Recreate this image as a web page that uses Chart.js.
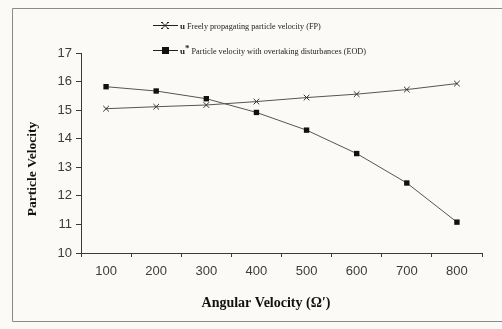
<!DOCTYPE html>
<html>
<head>
<meta charset="utf-8">
<script src="https://cdn.jsdelivr.net/npm/chart.js@4"></script>
<style>
  html, body { margin: 0; padding: 0; background: #fcfaf6; }
  #wrap { width: 502px; height: 329px; position: relative; }
</style>
</head>
<body>
<div id="wrap"><canvas id="c" width="502" height="329"></canvas></div>
<script>
const categories = ['100', '200', '300', '400', '500', '600', '700', '800'];
const fpValues  = [15.05, 15.12, 15.18, 15.3, 15.44, 15.56, 15.72, 15.93];
const eodValues = [15.82, 15.67, 15.4, 14.92, 14.3, 13.48, 12.45, 11.08];
const yTicks = [10, 11, 12, 13, 14, 15, 16, 17];
const legendSymbols = ['u', 'u*'];
const legendTexts = ['Freely propagating particle velocity (FP)', 'Particle velocity with overtaking disturbances (EOD)'];
const xTitle = 'Angular Velocity (\u03A9\u2032)';
const yTitle = 'Particle Velocity';

const ink = '#3a3a3a';

const framePlugin = {
  id: 'frame',
  beforeDraw(chart) {
    const ctx = chart.ctx;
    ctx.save();
    ctx.fillStyle = '#fcfaf6';
    ctx.fillRect(0, 0, chart.width, chart.height);
    ctx.strokeStyle = '#8a8a8a';
    ctx.lineWidth = 1;
    ctx.beginPath();
    ctx.moveTo(502, 8.5);
    ctx.lineTo(12.5, 8.5);
    ctx.lineTo(12.5, 321.5);
    ctx.lineTo(502, 321.5);
    ctx.stroke();
    ctx.restore();
  }
};

const titlesPlugin = {
  id: 'axisTitles',
  afterDraw(chart) {
    const ctx = chart.ctx;
    ctx.save();
    ctx.fillStyle = '#111';
    ctx.textAlign = 'center';
    ctx.textBaseline = 'middle';
    ctx.font = 'bold 14px "Liberation Serif"';
    ctx.fillText(xTitle, 266, 303);
    ctx.translate(33, 169);
    ctx.rotate(-Math.PI / 2);
    ctx.font = 'bold 13.5px "Liberation Serif"';
    ctx.fillText(yTitle, 0, 0);
    ctx.restore();
  }
};

const legendPlugin = {
  id: 'customLegend',
  afterDraw(chart) {
    const ctx = chart.ctx;
    ctx.save();
    const rows = [25, 50];
    chart.data.datasets.forEach((ds, i) => {
      const y = rows[i] + 0.5;
      ctx.strokeStyle = '#222';
      ctx.lineWidth = 1;
      ctx.beginPath();
      ctx.moveTo(153, y);
      ctx.lineTo(178, y);
      ctx.stroke();
      if (ds.pointStyle === 'rect') {
        ctx.fillStyle = '#111';
        ctx.fillRect(162, y - 3.5, 7, 7);
      } else {
        ctx.beginPath();
        ctx.moveTo(162, y - 3); ctx.lineTo(168, y + 3);
        ctx.moveTo(168, y - 3); ctx.lineTo(162, y + 3);
        ctx.moveTo(161, y - 3); ctx.lineTo(163, y - 3);
        ctx.moveTo(167, y - 3); ctx.lineTo(169, y - 3);
        ctx.moveTo(161, y + 3); ctx.lineTo(163, y + 3);
        ctx.moveTo(167, y + 3); ctx.lineTo(169, y + 3);
        ctx.stroke();
      }
      ctx.fillStyle = '#222';
      ctx.textBaseline = 'middle';
      ctx.font = 'bold 9px "Liberation Serif"';
      let x = 180;
      const sym = legendSymbols[i];
      if (sym.endsWith('*')) {
        const base = sym.slice(0, -1);
        ctx.fillText(base, x, y + 1);
        x += ctx.measureText(base).width;
        ctx.fillText('*', x, y - 2);
        x += ctx.measureText('*').width;
      } else {
        ctx.fillText(sym, x, y + 1);
        x += ctx.measureText(sym).width;
      }
      ctx.font = '8.2px "Liberation Serif"';
      ctx.fillText(' ' + legendTexts[i], x, y + 1);
    });
    ctx.restore();
  }
};

new Chart(document.getElementById('c'), {
  type: 'line',
  data: {
    labels: categories,
    datasets: [
      {
        label: legendSymbols[0] + ' ' + legendTexts[0],
        data: fpValues,
        borderColor: '#555',
        borderWidth: 1,
        pointStyle: 'crossRot',
        pointRadius: 4,
        pointBorderColor: '#333',
        pointBorderWidth: 1,
        pointBackgroundColor: '#333',
        tension: 0
      },
      {
        label: legendSymbols[1] + ' ' + legendTexts[1],
        data: eodValues,
        borderColor: '#555',
        borderWidth: 1,
        pointStyle: 'rect',
        pointRadius: 3.8,
        pointBorderColor: '#111',
        pointBackgroundColor: '#111',
        pointBorderWidth: 0,
        tension: 0
      }
    ]
  },
  options: {
    responsive: false,
    animation: false,
    devicePixelRatio: 1,
    layout: { padding: { left: 14, top: 53, right: 20, bottom: 12 } },
    plugins: { legend: { display: false }, tooltip: { enabled: false } },
    scales: {
      x: {
        type: 'category',
        offset: true,
        grid: { display: true, offset: true, drawOnChartArea: false, drawTicks: true, tickLength: 4, color: ink, tickColor: ink },
        border: { display: true, color: ink, width: 1 },
        ticks: { color: '#3c3c3c', font: { family: 'Liberation Sans', size: 13 }, padding: 7, maxRotation: 0 },
        title: { display: false, text: xTitle },
        afterFit(scale) { scale.height = 64; }
      },
      y: {
        min: 10,
        max: 17,
        afterBuildTicks(scale) { scale.ticks = yTicks.map(v => ({ value: v })); },
        grid: { display: true, drawOnChartArea: false, drawTicks: true, tickLength: 5, color: ink, tickColor: ink },
        border: { display: true, color: ink, width: 1 },
        ticks: { color: '#3c3c3c', font: { family: 'Liberation Sans', size: 13 }, padding: 4 },
        title: { display: false, text: yTitle },
        afterFit(scale) { scale.width = 67; }
      }
    }
  },
  plugins: [framePlugin, legendPlugin, titlesPlugin]
});
</script>
</body>
</html>
